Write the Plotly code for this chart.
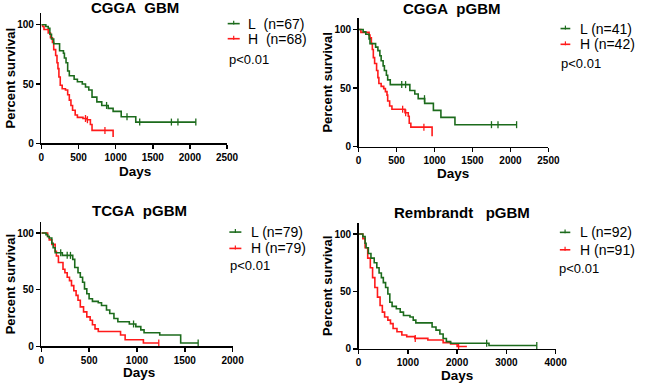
import plotly.graph_objects as go

W, H = 650, 390

# ---------------- data ----------------
# CGGA GBM
cgga_gbm_L_days = [0, 60, 92, 114, 136, 166, 245, 297, 310, 332, 354, 376, 441, 485, 551, 594, 638, 682, 747, 813, 900, 966, 1075, 1162, 1271, 2080]
cgga_gbm_L_surv = [100, 98.5, 97, 92, 88, 84, 78, 76, 72, 68, 61, 57, 54, 52, 50, 47.5, 45, 39, 35, 32, 29.5, 27, 22.5, 22.5, 18, 18]
cgga_gbm_L_cens = [878, 1153, 1324, 1751, 1839, 2080]
cgga_gbm_H_days = [0, 15, 35, 92, 122, 149, 166, 192, 210, 223, 236, 254, 280, 324, 354, 376, 398, 420, 455, 485, 560, 616, 660, 682, 966]
cgga_gbm_H_surv = [100, 98.5, 96, 93, 89, 85, 79, 74, 68, 63, 56, 49, 46, 45, 41, 36.5, 32, 28, 24, 22, 21, 20, 16, 11, 5.5]
cgga_gbm_H_cens = [594, 620, 856]

# CGGA pGBM
cgga_pgbm_L_days = [0, 60, 95, 138, 150, 224, 254, 280, 297, 323, 340, 366, 383, 417, 675, 740, 785, 870, 985, 1084, 1269, 2081]
cgga_pgbm_L_surv = [100, 98, 96, 92, 88, 85, 82, 77.6, 73.4, 69, 65, 61, 57, 53, 48, 45, 41, 37, 31, 25, 18.8, 18.8]
cgga_pgbm_L_cens = [568, 619, 868, 1750, 1836, 2081]
cgga_pgbm_H_days = [0, 30, 138, 150, 168, 181, 194, 211, 237, 254, 267, 297, 331, 353, 374, 383, 409, 439, 611, 654, 667, 688, 968]
cgga_pgbm_H_surv = [100, 97.6, 95.2, 92.9, 88, 83, 76, 71, 65, 59, 54, 51.5, 49.6, 47, 44, 39, 34.7, 32, 29, 26, 20, 16.7, 9]
cgga_pgbm_H_cens = [580, 620, 860]

# TCGA pGBM
tcga_L_days = [0, 48, 65, 82, 109, 123, 144, 219, 328, 349, 383, 407, 431, 451, 475, 499, 534, 595, 629, 681, 715, 759, 800, 920, 988, 1040, 1074, 1238, 1457, 1640]
tcga_L_surv = [100, 98.6, 97, 95.6, 91, 87, 82.6, 80.3, 76.8, 69.6, 65, 61, 56.5, 50.7, 46.4, 42, 39.7, 38.5, 36, 32, 29, 24.6, 21.7, 19.7, 17.4, 14.5, 12, 10, 2.9, 2.9]
tcga_L_cens = [202, 270, 304, 964, 1640]
tcga_H_days = [0, 65, 82, 109, 144, 157, 178, 226, 246, 270, 294, 315, 339, 363, 383, 407, 441, 475, 510, 534, 561, 595, 828, 876, 1067, 1228]
tcga_H_surv = [100, 97, 94, 90, 84, 79.7, 74, 68, 65, 61, 58, 53.6, 49, 45, 40.6, 34.8, 30.4, 26, 23, 19, 15.4, 13, 10, 5.8, 2.9, 2.9]
tcga_H_cens = [1228]

# Rembrandt pGBM
remb_L_days = [0, 86, 132, 152, 198, 251, 317, 370, 416, 462, 502, 548, 594, 634, 680, 766, 845, 911, 1043, 1109, 1162, 1492, 1571, 1650, 1716, 1782, 1868, 2647, 3617]
remb_L_surv = [100, 97.7, 92, 88, 83, 79, 75, 70.6, 66, 62, 57.7, 53.4, 47.7, 40.6, 37, 34.9, 32, 29, 27.7, 25, 22.6, 19, 16.3, 12.9, 9, 6.3, 4.9, 2.9, 2.9]
remb_L_cens = [2600, 3617]
remb_H_days = [0, 86, 132, 185, 238, 284, 330, 383, 436, 482, 528, 594, 647, 700, 779, 878, 977, 1142, 1406, 1716, 1868, 2000, 2198]
remb_H_surv = [100, 96, 88, 79, 70.6, 62, 53.4, 45, 37.7, 32, 27.7, 25, 22, 17.7, 14.9, 12, 10.6, 9.1, 7.7, 5.4, 4.3, 2, 2]
remb_H_cens = [1150, 2030]

panel_titles = ["CGGA\u00a0\u00a0GBM", "CGGA\u00a0\u00a0pGBM", "TCGA\u00a0\u00a0pGBM", "Rembrandt\u00a0\u00a0\u00a0pGBM"]
legend_L = ["L\u00a0\u00a0(n=67)", "L (n=41)", "L (n=79)", "L (n=92)"]
legend_H = ["H\u00a0\u00a0(n=68)", "H (n=42)", "H (n=79)", "H (n=91)"]
p_text = "p<0.01"
x_max = [2500, 2500, 2000, 4000]
x_dtick = [500, 500, 500, 1000]
y_ticks = [0, 50, 100]

# ---------------- styling / layout constants ----------------
GREEN = "#1c6b1c"
RED = "#ff1a1a"
FONT = "Liberation Sans, Arial, sans-serif"

# plot area in pixels: (x_left, x_right, y_top(=110), y_bottom(=0))
areas = [(39.3, 229.3, 13.0, 145.7),
         (364.0, 558.3, 18.1, 149.0),
         (39.3, 235.0, 225.2, 351.7),
         (364.0, 565.7, 226.0, 354.3)]
title_pos = [(135, 7.5), (460, 8.5), (140, 213.5), (470, 216)]
days_pos = [(135, 174), (461, 176.5), (139, 378.5), (465, 381.5)]
ylab_x = [7.5, 332, 7.5, 332]
leg_pos = [  # line x0, line x1, text x, row L y, row H y, p x, p y
    (230, 242.3, 249.5, 24, 39.3, 229, 60.5),
    (570.7, 580.7, 589.5, 29, 45, 569.5, 65),
    (231.7, 244, 253, 235.7, 252.3, 230.7, 270),
    (570, 580.7, 589.5, 236, 253.7, 567.3, 272.7),
]


def fx(px):
    return px / W


def fy(py):
    return 1 - py / H


def step_value(days, surv, t):
    v = surv[0]
    for d, s in zip(days, surv):
        if d <= t:
            v = s
    return v


series = [
    (cgga_gbm_L_days, cgga_gbm_L_surv, cgga_gbm_L_cens, cgga_gbm_H_days, cgga_gbm_H_surv, cgga_gbm_H_cens),
    (cgga_pgbm_L_days, cgga_pgbm_L_surv, cgga_pgbm_L_cens, cgga_pgbm_H_days, cgga_pgbm_H_surv, cgga_pgbm_H_cens),
    (tcga_L_days, tcga_L_surv, tcga_L_cens, tcga_H_days, tcga_H_surv, tcga_H_cens),
    (remb_L_days, remb_L_surv, remb_L_cens, remb_H_days, remb_H_surv, remb_H_cens),
]

fig = go.Figure()
annotations = []
shapes = []

for i, (Ld, Ls, Lc, Hd, Hs, Hc) in enumerate(series):
    n = i + 1
    xa = "x" if n == 1 else f"x{n}"
    ya = "y" if n == 1 else f"y{n}"
    for days, surv, cens, col, name in ((Hd, Hs, Hc, RED, legend_H[i]), (Ld, Ls, Lc, GREEN, legend_L[i])):
        fig.add_trace(go.Scatter(x=days, y=surv, mode="lines", line=dict(color=col, width=1.6, shape="hv"),
                                 xaxis=xa, yaxis=ya, name=name, showlegend=False, hoverinfo="skip"))
        fig.add_trace(go.Scatter(x=cens, y=[step_value(days, surv, t) for t in cens], mode="markers",
                                 marker=dict(symbol="line-ns", size=5, line=dict(color=col, width=1.3)),
                                 xaxis=xa, yaxis=ya, showlegend=False, hoverinfo="skip", cliponaxis=False))

    xl, xr, yt, yb = areas[i]
    axis_common = dict(showline=True, linecolor="black", linewidth=1.5, ticks="outside", ticklen=4,
                       tickwidth=1.5, tickcolor="black", showgrid=False, zeroline=False,
                       tickfont=dict(family=FONT, size=10, color="black", weight="bold"))
    fig.layout[f"xaxis{n if n > 1 else ''}"] = dict(domain=[fx(xl), fx(xr)], range=[0, x_max[i]], dtick=x_dtick[i],
                                                      tick0=0, anchor=ya, **axis_common)
    fig.layout[f"yaxis{n if n > 1 else ''}"] = dict(domain=[fy(yb), fy(yt)], range=[0, 110], tickvals=y_ticks,
                                                      anchor=xa, **axis_common)

    tx, ty = title_pos[i]
    annotations.append(dict(text=panel_titles[i], x=fx(tx), y=fy(ty), xref="paper", yref="paper",
                            xanchor="center", yanchor="middle", showarrow=False,
                            font=dict(family=FONT, size=15, color="black", weight="bold")))
    dx, dy = days_pos[i]
    annotations.append(dict(text="Days", x=fx(dx), y=fy(dy), xref="paper", yref="paper",
                            xanchor="center", yanchor="middle", showarrow=False,
                            font=dict(family=FONT, size=13.5, color="black", weight="bold")))
    annotations.append(dict(text="Percent survival", x=fx(ylab_x[i]), y=fy((yt + yb) / 2), xref="paper",
                            yref="paper", xanchor="center", yanchor="middle", textangle=-90, showarrow=False,
                            font=dict(family=FONT, size=13, color="black", weight="bold")))

    lx0, lx1, ltx, lyL, lyH, ppx, ppy = leg_pos[i]
    for row_y, col, txt in ((lyL, GREEN, legend_L[i]), (lyH, RED, legend_H[i])):
        shapes.append(dict(type="line", xref="paper", yref="paper", x0=fx(lx0), x1=fx(lx1),
                           y0=fy(row_y), y1=fy(row_y), line=dict(color=col, width=1.6)))
        mid = (lx0 + lx1) / 2
        shapes.append(dict(type="line", xref="paper", yref="paper", x0=fx(mid), x1=fx(mid),
                           y0=fy(row_y + 1), y1=fy(row_y - 3), line=dict(color=col, width=1.2)))
        annotations.append(dict(text=txt, x=fx(ltx), y=fy(row_y), xref="paper", yref="paper",
                                xanchor="left", yanchor="middle", showarrow=False, borderpad=0,
                                font=dict(family=FONT, size=14, color="black")))
    annotations.append(dict(text=p_text, x=fx(ppx), y=fy(ppy), xref="paper", yref="paper",
                            xanchor="left", yanchor="middle", showarrow=False,
                            font=dict(family=FONT, size=13, color="black")))

fig.update_layout(width=W, height=H, margin=dict(l=0, r=0, t=0, b=0), paper_bgcolor="white",
                  plot_bgcolor="white", showlegend=False, annotations=annotations, shapes=shapes)

fig.write_html("out.html", config={"displayModeBar": False, "staticPlot": True},
               post_script="document.body.style.margin='0';document.body.style.overflow='hidden';")
